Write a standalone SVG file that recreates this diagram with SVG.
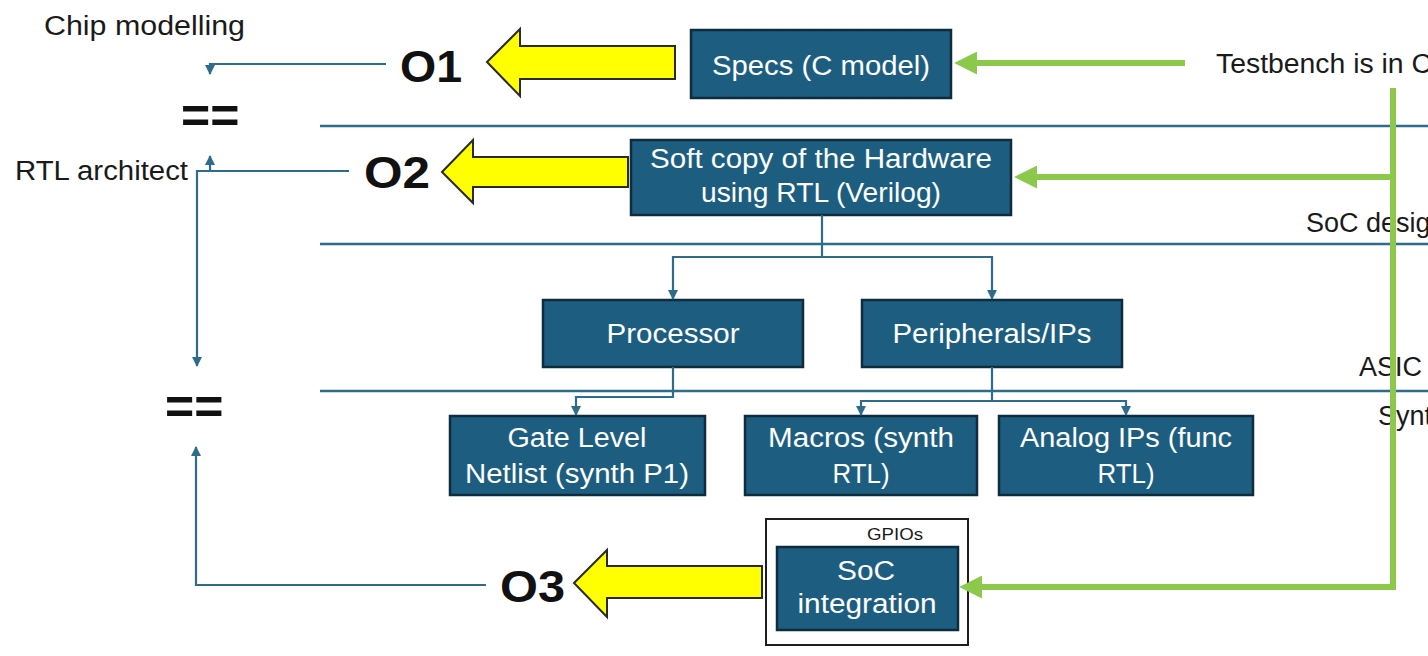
<svg xmlns="http://www.w3.org/2000/svg" width="1428" height="656" viewBox="0 0 1428 656">
<style>
.box{fill:#1d5e80;stroke:#0e2c3e;stroke-width:2.5}
.bt{font-family:"Liberation Sans",Arial,sans-serif;font-size:27px;fill:#ffffff;text-anchor:middle}
.lbl{font-family:"Liberation Sans",Arial,sans-serif;font-size:27px;fill:#1a1a1a}
.big{font-family:"Liberation Sans",Arial,sans-serif;font-size:45px;font-weight:bold;fill:#111111}
.eq{font-family:"Liberation Sans",Arial,sans-serif;font-size:50px;font-weight:bold;fill:#111111}
.yel{fill:#ffff00;stroke:#2a2a2a;stroke-width:2;stroke-linejoin:miter}
.div{fill:none;stroke:#2f6c8c;stroke-width:2.5}
.bl{fill:none;stroke:#2f6c8c;stroke-width:2.2}
.gr{fill:none;stroke:#8cc84b;stroke-width:6;stroke-linejoin:miter}
</style>
<defs>
<marker id="ba" viewBox="0 0 10 10" refX="9" refY="5" markerWidth="10" markerHeight="10" markerUnits="userSpaceOnUse" orient="auto">
<path d="M0,0 L10,5 L0,10 z" fill="#2f6c8c"/>
</marker>
<marker id="ga" viewBox="0 0 10 10" refX="0.5" refY="5" markerWidth="23" markerHeight="23" markerUnits="userSpaceOnUse" orient="auto">
<path d="M0,0 L10,5 L0,10 z" fill="#8cc84b"/>
</marker>
</defs>
<rect width="1428" height="656" fill="#ffffff"/>

<g id="dividers">
<line class="div" x1="320" y1="126" x2="1428" y2="126"/>
<line class="div" x1="320" y1="244" x2="1428" y2="244"/>
<line class="div" x1="320" y1="391" x2="1428" y2="391"/>
</g>

<g id="labels">
<text class="lbl" x="44" y="35" textLength="201" lengthAdjust="spacingAndGlyphs">Chip modelling</text>
<text class="lbl" x="15" y="180" textLength="173" lengthAdjust="spacingAndGlyphs">RTL architect</text>
<text class="lbl" x="1216" y="73" textLength="216" lengthAdjust="spacingAndGlyphs">Testbench is in C</text>
<text class="lbl" x="1306" y="232">SoC design</text>
<text class="lbl" x="1359" y="376">ASIC</text>
<text class="lbl" x="1378" y="425">Synthesis</text>
<text class="eq" x="181" y="133">==</text>
<text class="eq" x="165" y="424">==</text>
</g>

<g id="outputs">
<text class="big" x="400" y="82" textLength="62" lengthAdjust="spacingAndGlyphs">O1</text>
<text class="big" x="364" y="188" textLength="66" lengthAdjust="spacingAndGlyphs">O2</text>
<text class="big" x="500" y="602" textLength="65" lengthAdjust="spacingAndGlyphs">O3</text>
<polygon id="arrowO1" class="yel" points="487,62 520,29 520,46 675,46 675,79 520,79 520,96"/>
<polygon id="arrowO2" class="yel" points="442,172 473,140 473,157 628,157 628,187 473,187 473,203"/>
<polygon id="arrowO3" class="yel" points="574,583 607,550 607,566 762,566 762,598 607,598 607,617"/>
</g>

<g id="node-specs">
<rect class="box" x="691" y="30" width="260" height="68"/>
<text class="bt" x="821" y="75" textLength="218" lengthAdjust="spacingAndGlyphs">Specs (C model)</text>
</g>
<g id="node-softcopy">
<rect class="box" x="631" y="140" width="380" height="75"/>
<text class="bt" x="821" y="168" textLength="342" lengthAdjust="spacingAndGlyphs">Soft copy of the Hardware</text>
<text class="bt" x="821" y="202" textLength="240" lengthAdjust="spacingAndGlyphs">using RTL (Verilog)</text>
</g>
<g id="node-processor">
<rect class="box" x="543" y="300" width="260" height="67"/>
<text class="bt" x="673" y="343" textLength="133" lengthAdjust="spacingAndGlyphs">Processor</text>
</g>
<g id="node-peripherals">
<rect class="box" x="862" y="300" width="260" height="67"/>
<text class="bt" x="992" y="343" textLength="199" lengthAdjust="spacingAndGlyphs">Peripherals/IPs</text>
</g>
<g id="node-gatelevel">
<rect class="box" x="450" y="416" width="255" height="79"/>
<text class="bt" x="577" y="447" textLength="139" lengthAdjust="spacingAndGlyphs">Gate Level</text>
<text class="bt" x="577" y="483" textLength="224" lengthAdjust="spacingAndGlyphs">Netlist (synth P1)</text>
</g>
<g id="node-macros">
<rect class="box" x="745" y="416" width="232" height="79"/>
<text class="bt" x="861" y="447" textLength="186" lengthAdjust="spacingAndGlyphs">Macros (synth</text>
<text class="bt" x="861" y="483" textLength="57" lengthAdjust="spacingAndGlyphs">RTL)</text>
</g>
<g id="node-analog">
<rect class="box" x="999" y="416" width="254" height="79"/>
<text class="bt" x="1126" y="447" textLength="212" lengthAdjust="spacingAndGlyphs">Analog IPs (func</text>
<text class="bt" x="1126" y="483" textLength="57" lengthAdjust="spacingAndGlyphs">RTL)</text>
</g>
<g id="node-soc">
<rect x="766" y="519" width="202" height="126" fill="#ffffff" stroke="#1e1e1e" stroke-width="2"/>
<text x="895" y="540" font-family="'Liberation Sans',Arial,sans-serif" font-size="16" fill="#1a1a1a" text-anchor="middle" textLength="56" lengthAdjust="spacingAndGlyphs">GPIOs</text>
<rect class="box" x="777" y="547" width="181" height="83"/>
<text class="bt" x="866" y="580" textLength="58" lengthAdjust="spacingAndGlyphs">SoC</text>
<text class="bt" x="867" y="613" textLength="139" lengthAdjust="spacingAndGlyphs">integration</text>
</g>

<g id="connectors">
<path class="bl" d="M386,64 H210 V74" marker-end="url(#ba)"/>
<path class="bl" d="M349,171 H197 V366" marker-end="url(#ba)"/>
<path class="bl" d="M210,171 V156" marker-end="url(#ba)"/>
<path class="bl" d="M486,585 H196 V447" marker-end="url(#ba)"/>
<path class="bl" d="M822,215 V257 H673 V299" marker-end="url(#ba)"/>
<path class="bl" d="M822,257 H992 V299" marker-end="url(#ba)"/>
<path class="bl" d="M673,367 V397 H576 V415" marker-end="url(#ba)"/>
<path class="bl" d="M992,367 V401 H861 V415" marker-end="url(#ba)"/>
<path class="bl" d="M992,401 H1126 V415" marker-end="url(#ba)"/>
<path class="gr" d="M1185,63 H976" marker-end="url(#ga)"/>
<path class="gr" d="M1393,88 V587 H981" marker-end="url(#ga)"/>
<path class="gr" d="M1393,177 H1036" marker-end="url(#ga)"/>
</g>
</svg>
